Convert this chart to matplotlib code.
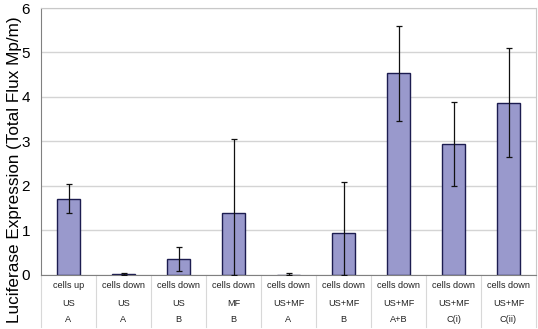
import matplotlib.pyplot as plt
import numpy as np

plt.rcParams['font.family'] = ['Liberation Sans', 'DejaVu Sans']

# data
row1 = ["cells up", "cells down", "cells down", "cells down", "cells down",
        "cells down", "cells down", "cells down", "cells down"]
row2 = ["US", "US", "US", "MF", "US+MF", "US+MF", "US+MF", "US+MF", "US+MF"]
row3 = ["A", "A", "B", "B", "A", "B", "A+B", "C(i)", "C(ii)"]
values = [1.71, 0.01, 0.36, 1.39, 0.0, 0.94, 4.53, 2.93, 3.87]
err_hi = [2.03, 0.03, 0.62, 3.06, 0.04, 2.09, 5.60, 3.89, 5.10]
err_lo = [1.39, 0.0, 0.08, 0.0, 0.0, 0.0, 3.46, 1.99, 2.65]

W, H = 538, 329
fig = plt.figure(figsize=(W / 100, H / 100), dpi=100)
ax = fig.add_axes([41 / W, 1 - 274.5 / H, 495 / W, 266.5 / H])

x = np.arange(len(values))
vals = np.array(values)
yerr = [vals - np.array(err_lo), np.array(err_hi) - vals]

ax.bar(x, vals, width=0.42, color="#9999cc", edgecolor="#1c1c50", linewidth=1.0, zorder=2)
ax.errorbar(x, vals, yerr=yerr, fmt="none", ecolor="#111111", elinewidth=0.9,
            capsize=2.5, capthick=0.9, zorder=3)

ax.set_xlim(-0.5, len(values) - 0.5)
ax.set_ylim(0, 6)
ax.set_yticks(range(7))
ax.tick_params(axis="y", length=0, labelsize=11, pad=8)
ax.set_xticks([])
ax.yaxis.grid(True, color="#d4d4d4", linewidth=1.0)
ax.set_axisbelow(True)
for s in ["top", "right"]:
    ax.spines[s].set_color("#c8c8c8")
ax.spines["left"].set_color("#808080")
ax.spines["bottom"].set_color("#808080")

ax.set_ylabel("Luciferase Expression (Total Flux Mp/m)", fontsize=12.3)
ax.yaxis.set_label_coords(-19 / 495, 0.395)

# multi-level category table under the axis
trans = ax.get_xaxis_transform()
for i in range(len(values)):
    for lab, yp in zip((row1[i], row2[i], row3[i]), (286, 303, 320)):
        ax.text(i, (274.5 - yp) / 266.5, lab, transform=trans, ha="center",
                va="center", fontsize=6.6, color="#222222", clip_on=False)
for b in np.arange(-0.5, len(values), 1.0):
    ax.plot([b, b], [0, -52 / 266.5], transform=trans, color="#d8d8d8",
            linewidth=0.8, clip_on=False)

fig.savefig("out.png", dpi=100)
